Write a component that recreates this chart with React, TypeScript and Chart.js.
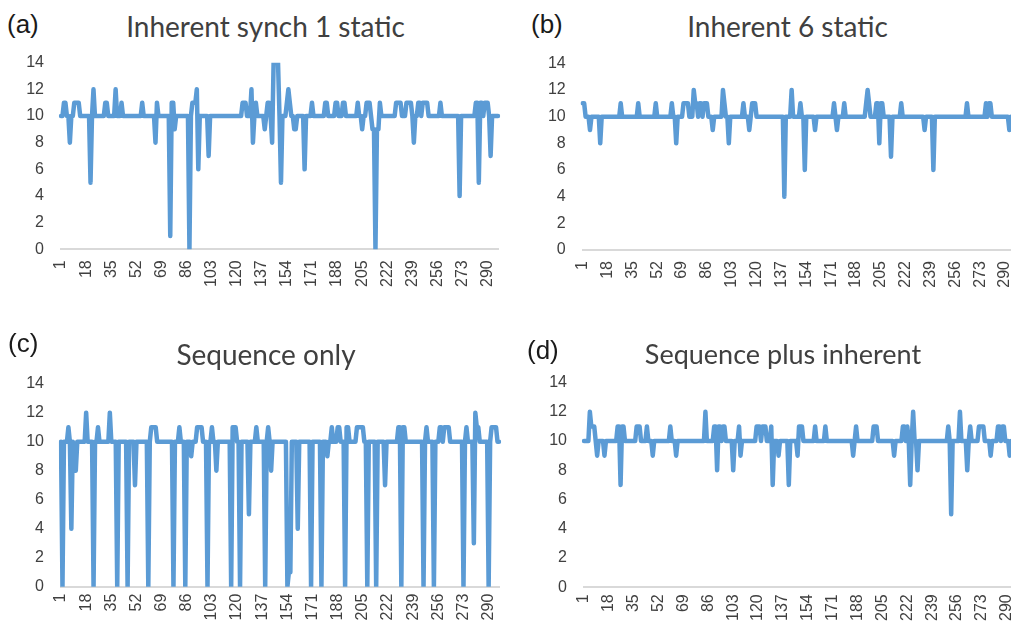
import React, { useEffect, useRef } from 'react';
import { Chart, registerables } from 'chart.js';

Chart.register(...registerables);

// Category index labels 1..297 (the x axis of every panel)
const CATEGORIES: string[] = Array.from({ length: 297 }, (_, i) => String(i + 1));

// Tick labels that are shown on the x axis
const TICK_LABELS = ['1', '18', '35', '52', '69', '86', '103', '120', '137', '154', '171', '188', '205', '222', '239', '256', '273', '290'];

// Y axis range
const Y_MIN = 0;
const Y_MAX = 14;
const Y_STEP = 2;

const TITLES = ['Inherent synch 1 static', 'Inherent 6 static', 'Sequence only', 'Sequence plus inherent'];
const LETTERS = ['(a)', '(b)', '(c)', '(d)'];

// (a) Inherent synch 1 static
const INHERENT_SYNCH_1_STATIC = [
  10, 10, 11, 11, 10, 10, 8, 10, 10, 11,
  11, 11, 11, 10, 10, 10, 10, 10, 10, 10,
  5, 10, 12, 10, 10, 10, 10, 10, 10, 10,
  11, 11, 10, 10, 10, 10, 10, 12, 10, 10,
  10, 11, 10, 10, 10, 10, 10, 10, 10, 10,
  10, 10, 10, 10, 10, 11, 10, 10, 10, 10,
  10, 10, 10, 10, 8, 11, 10, 10, 10, 10,
  10, 10, 10, 10, 1, 11, 11, 9, 10, 10,
  10, 10, 10, 10, 10, 10, 10, 0, 10, 11,
  11, 11, 12, 6, 10, 10, 10, 10, 10, 10,
  7, 10, 10, 10, 10, 10, 10, 10, 10, 10,
  10, 10, 10, 10, 10, 10, 10, 10, 10, 10,
  10, 10, 10, 11, 11, 11, 10, 10, 10, 12,
  8, 10, 11, 10, 10, 10, 10, 10, 9, 10,
  11, 11, 10, 8, 14, 14, 14, 14, 10, 5,
  10, 10, 10, 11, 12, 11, 10, 10, 9, 9,
  10, 10, 10, 10, 10, 6, 10, 10, 10, 10,
  11, 10, 10, 10, 10, 10, 10, 10, 10, 11,
  11, 10, 10, 10, 10, 10, 11, 11, 10, 10,
  10, 11, 11, 10, 10, 10, 10, 10, 10, 10,
  10, 11, 10, 10, 9, 10, 10, 11, 11, 11,
  10, 9, 9, 0, 9, 9, 11, 10, 10, 10,
  10, 10, 10, 10, 10, 10, 10, 11, 11, 11,
  11, 10, 10, 10, 11, 11, 11, 11, 10, 8,
  10, 10, 11, 11, 10, 11, 11, 11, 11, 10,
  10, 10, 10, 10, 10, 10, 10, 11, 10, 10,
  10, 10, 10, 10, 10, 10, 10, 10, 10, 10,
  4, 10, 10, 10, 10, 10, 10, 10, 10, 10,
  10, 11, 11, 5, 11, 11, 10, 11, 11, 11,
  10, 7, 10, 10, 10, 10, 10,
];

// (b) Inherent 6 static
const INHERENT_6_STATIC = [
  11, 11, 10, 10, 10, 9, 10, 10, 10, 10,
  10, 10, 8, 10, 10, 10, 10, 10, 10, 10,
  10, 10, 10, 10, 10, 10, 11, 10, 10, 10,
  10, 10, 10, 10, 10, 10, 10, 10, 11, 10,
  10, 10, 10, 10, 10, 10, 10, 10, 10, 10,
  11, 10, 10, 10, 10, 10, 10, 10, 10, 10,
  10, 11, 10, 10, 8, 10, 10, 10, 10, 11,
  11, 11, 11, 10, 10, 10, 12, 11, 11, 10,
  11, 11, 10, 11, 11, 11, 10, 10, 10, 9,
  10, 10, 10, 10, 10, 10, 12, 11, 10, 10,
  8, 10, 10, 10, 10, 10, 10, 10, 10, 10,
  11, 10, 10, 10, 9, 10, 11, 11, 11, 10,
  10, 10, 10, 10, 10, 10, 10, 10, 10, 10,
  10, 10, 10, 10, 10, 10, 10, 10, 4, 10,
  10, 10, 10, 12, 10, 10, 10, 10, 10, 11,
  10, 10, 6, 10, 10, 10, 10, 10, 10, 9,
  10, 10, 10, 10, 10, 10, 10, 10, 10, 10,
  10, 10, 11, 10, 9, 10, 10, 10, 10, 11,
  10, 10, 10, 10, 10, 10, 10, 10, 10, 10,
  10, 10, 10, 10, 11, 12, 11, 10, 10, 10,
  10, 11, 11, 8, 11, 11, 10, 10, 10, 10,
  10, 7, 10, 10, 10, 10, 10, 10, 11, 10,
  10, 10, 10, 10, 10, 10, 10, 10, 10, 10,
  10, 10, 10, 10, 9, 10, 10, 10, 10, 10,
  6, 10, 10, 10, 10, 10, 10, 10, 10, 10,
  10, 10, 10, 10, 10, 10, 10, 10, 10, 10,
  10, 10, 10, 11, 10, 10, 10, 10, 10, 10,
  10, 10, 10, 10, 10, 10, 11, 10, 11, 11,
  10, 10, 10, 10, 10, 10, 10, 10, 10, 10,
  10, 10, 9, 10, 10, 10, 10,
];

// (c) Sequence only
const SEQUENCE_ONLY = [
  10, 0, 10, 10, 10, 11, 10, 4, 10, 9,
  8, 10, 10, 10, 10, 10, 10, 12, 10, 10,
  10, 10, 0, 10, 10, 11, 10, 10, 10, 10,
  10, 10, 10, 12, 10, 10, 10, 10, 0, 10,
  10, 10, 10, 10, 10, 0, 10, 10, 10, 10,
  7, 10, 10, 10, 10, 10, 10, 10, 10, 0,
  10, 11, 11, 11, 11, 10, 10, 10, 10, 10,
  10, 10, 10, 10, 10, 10, 0, 10, 10, 10,
  11, 10, 10, 10, 0, 10, 10, 10, 9, 10,
  10, 10, 11, 11, 11, 11, 10, 10, 10, 0,
  10, 10, 11, 10, 10, 8, 10, 10, 10, 10,
  10, 10, 10, 10, 10, 0, 11, 11, 11, 10,
  10, 0, 10, 10, 10, 10, 10, 5, 10, 10,
  10, 10, 11, 10, 10, 10, 10, 10, 0, 10,
  11, 10, 8, 10, 10, 10, 10, 10, 10, 10,
  10, 10, 10, 0, 1, 1, 10, 10, 10, 10,
  4, 10, 10, 10, 10, 10, 10, 10, 10, 0,
  10, 10, 10, 10, 10, 10, 0, 10, 10, 10,
  9, 10, 10, 11, 10, 10, 10, 11, 11, 10,
  10, 10, 0, 11, 11, 10, 10, 10, 10, 10,
  11, 11, 11, 11, 11, 10, 10, 0, 10, 10,
  10, 10, 10, 0, 10, 10, 10, 10, 10, 7,
  10, 10, 10, 10, 10, 10, 10, 10, 11, 11,
  0, 11, 11, 10, 10, 10, 10, 10, 10, 10,
  10, 10, 10, 10, 10, 0, 10, 11, 10, 10,
  10, 10, 0, 10, 10, 10, 11, 11, 10, 11,
  11, 11, 11, 10, 10, 10, 10, 10, 10, 10,
  10, 10, 0, 10, 11, 10, 10, 10, 10, 3,
  12, 11, 11, 10, 10, 10, 10, 10, 10, 0,
  10, 11, 11, 11, 11, 10, 10,
];

// (d) Sequence plus inherent
const SEQUENCE_PLUS_INHERENT = [
  10, 10, 10, 10, 12, 11, 11, 11, 10, 9,
  10, 10, 10, 10, 9, 10, 10, 10, 10, 10,
  10, 10, 10, 11, 11, 7, 11, 11, 10, 10,
  10, 10, 10, 10, 10, 10, 11, 11, 11, 10,
  10, 10, 10, 11, 10, 10, 10, 9, 10, 10,
  10, 10, 10, 10, 10, 10, 10, 10, 10, 11,
  10, 10, 10, 9, 10, 10, 10, 10, 10, 10,
  10, 10, 10, 10, 10, 10, 10, 10, 10, 10,
  10, 10, 10, 12, 10, 10, 10, 10, 10, 11,
  11, 8, 11, 11, 10, 11, 11, 10, 10, 10,
  10, 10, 8, 10, 10, 10, 11, 9, 10, 10,
  10, 10, 10, 10, 10, 10, 10, 10, 11, 11,
  11, 10, 11, 11, 11, 10, 10, 10, 11, 7,
  10, 10, 10, 9, 10, 10, 10, 10, 10, 10,
  7, 10, 10, 10, 10, 10, 9, 11, 11, 11,
  10, 10, 10, 10, 10, 10, 10, 10, 11, 10,
  10, 10, 10, 10, 10, 11, 10, 10, 10, 10,
  10, 10, 10, 10, 10, 10, 10, 10, 10, 10,
  10, 10, 10, 10, 9, 10, 11, 10, 10, 10,
  10, 10, 10, 10, 10, 10, 10, 10, 11, 11,
  11, 10, 10, 10, 10, 10, 10, 10, 10, 10,
  10, 10, 9, 10, 10, 10, 10, 10, 11, 11,
  10, 11, 10, 7, 10, 12, 10, 10, 8, 10,
  10, 10, 10, 10, 10, 10, 10, 10, 10, 10,
  10, 10, 10, 10, 10, 10, 10, 10, 10, 11,
  10, 5, 10, 10, 10, 10, 10, 12, 10, 10,
  10, 10, 8, 10, 11, 10, 10, 10, 10, 10,
  11, 11, 11, 11, 10, 10, 10, 10, 9, 10,
  10, 10, 10, 11, 11, 10, 11, 11, 10, 10,
  10, 9, 10, 10, 10, 10, 10,
];

const SERIES = [INHERENT_SYNCH_1_STATIC, INHERENT_6_STATIC, SEQUENCE_ONLY, SEQUENCE_PLUS_INHERENT];

type Rect = [number, number, number, number];

// canvas rect [left, top, width, height] and plot area [left, top, right, bottom] (page px)
const CANVAS_RECTS: Rect[] = [
  [0, 50, 505, 250],
  [506, 50, 520, 250],
  [0, 370, 505, 260],
  [506, 370, 520, 260],
];
const PLOT_AREAS: Rect[] = [
  [61, 62.7, 498, 249.3],
  [582.7, 63.3, 1015.2, 250],
  [61, 383.7, 499, 586.7],
  [584, 382.5, 1017, 587.3],
];
const X_TICK_PAD = [11, 11, 7, 7];
const X_AXIS_H = [45, 45, 38, 38];

const TITLE_POS = [
  [265.5, 12],
  [787.5, 12],
  [266, 340],
  [783, 340],
];
const TITLE_SIZE = [28, 28, 28, 27];
const LETTER_POS = [
  [7, 11],
  [531, 11],
  [8, 329.5],
  [527, 336.5],
];

function Panel({ idx }: { idx: number }) {
  const ref = useRef<HTMLCanvasElement | null>(null);
  const [L, T, W, H] = CANVAS_RECTS[idx];
  useEffect(() => {
    const [cl, ct, cr, cb] = PLOT_AREAS[idx];
    const yW = cl - L;
    const xH = X_AXIS_H[idx];
    const padTop = ct - T;
    const padRight = L + W - cr;
    const padBottom = T + H - cb - xH;
    const zeroPad = (s: any) => {
      s.paddingTop = 0;
      s.paddingBottom = 0;
      s.paddingLeft = 0;
      s.paddingRight = 0;
    };
    const chart = new Chart(ref.current as HTMLCanvasElement, {
      type: 'line',
      data: {
        labels: CATEGORIES,
        datasets: [
          {
            data: SERIES[idx],
            borderColor: '#5B9BD5',
            backgroundColor: '#5B9BD5',
            borderWidth: 4.5,
            pointRadius: 0,
            pointHoverRadius: 0,
            tension: 0,
            fill: false,
            borderJoinStyle: 'round',
            borderCapStyle: 'round',
          },
        ],
      },
      options: {
        responsive: false,
        maintainAspectRatio: false,
        animation: false,
        events: [],
        layout: { padding: { left: 0, top: padTop, right: padRight, bottom: padBottom } },
        plugins: {
          legend: { display: false },
          tooltip: { enabled: false },
          title: { display: false },
        },
        scales: {
          x: {
            type: 'category',
            offset: false,
            grid: { display: true, color: 'rgba(0,0,0,0)', drawTicks: false },
            border: { display: true, color: '#d9d9d9', width: 2 },
            ticks: {
              autoSkip: false,
              minRotation: 90,
              maxRotation: 90,
              padding: X_TICK_PAD[idx],
              color: '#404040',
              font: { family: 'Liberation Sans', size: 16 },
              callback: (_v: any, i: number) => (TICK_LABELS.includes(CATEGORIES[i]) ? CATEGORIES[i] : ''),
            },
            afterFit: (s: any) => {
              s.height = xH;
              zeroPad(s);
            },
          },
          y: {
            min: Y_MIN,
            max: Y_MAX,
            grid: { display: false, drawTicks: false },
            border: { display: false },
            ticks: {
              stepSize: Y_STEP,
              padding: 17,
              color: '#404040',
              font: { family: 'Liberation Sans', size: 16 },
            },
            afterFit: (s: any) => {
              s.width = yW;
              zeroPad(s);
            },
          },
        },
      },
    } as any);
    return () => chart.destroy();
  }, [idx]);
  return (
    <canvas
      ref={ref}
      width={W}
      height={H}
      style={{ position: 'absolute', left: L, top: T, width: W, height: H }}
    />
  );
}

export default function App() {
  return (
    <div
      style={{
        position: 'absolute',
        left: 0,
        top: 0,
        width: 1011,
        height: 627,
        overflow: 'hidden',
        background: '#ffffff',
      }}
    >
      {[0, 1, 2, 3].map((i) => (
        <Panel key={'p' + i} idx={i} />
      ))}
      {TITLES.map((t, i) => (
        <div
          key={'t' + i}
          style={{
            position: 'absolute',
            left: TITLE_POS[i][0] - 200,
            top: TITLE_POS[i][1],
            width: 400,
            textAlign: 'center',
            fontFamily: 'Lato',
            fontSize: TITLE_SIZE[i],
            lineHeight: '28px',
            color: '#404040',
            whiteSpace: 'nowrap',
          }}
        >
          {t}
        </div>
      ))}
      {LETTERS.map((t, i) => (
        <div
          key={'l' + i}
          style={{
            position: 'absolute',
            left: LETTER_POS[i][0],
            top: LETTER_POS[i][1],
            fontFamily: 'Liberation Sans',
            fontSize: 26,
            lineHeight: '26px',
            color: '#1a1a1a',
            whiteSpace: 'nowrap',
          }}
        >
          {t}
        </div>
      ))}
    </div>
  );
}
